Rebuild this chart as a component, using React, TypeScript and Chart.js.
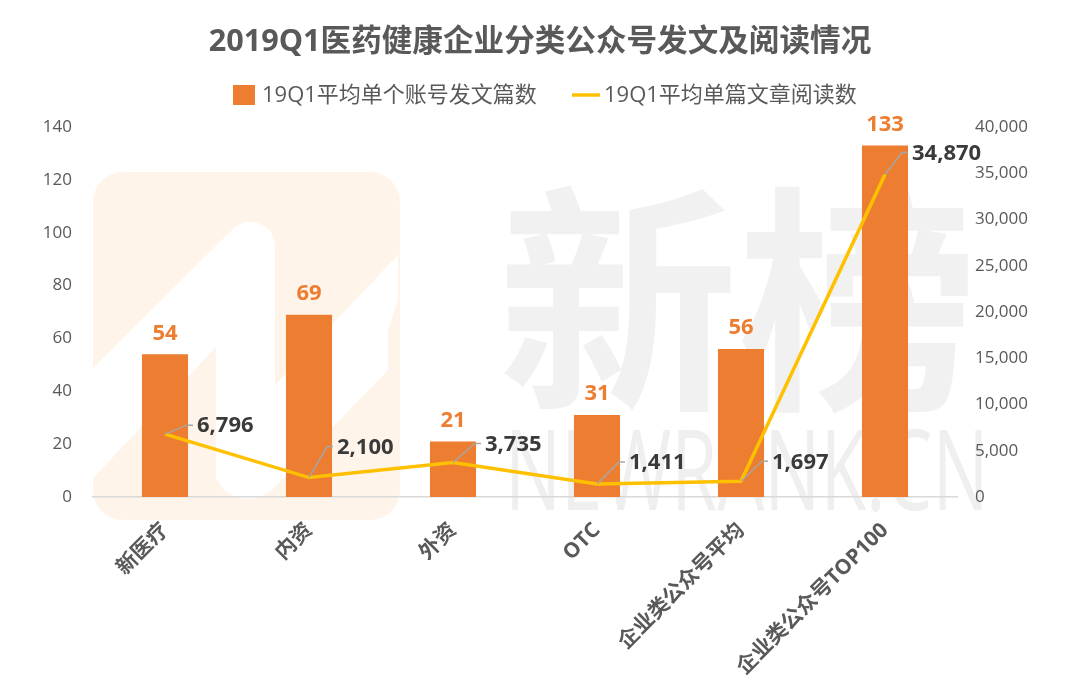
import { useEffect, useRef } from 'react';
import { Chart, registerables } from 'chart.js';

Chart.register(...registerables);

const titleText = '2019Q1医药健康企业分类公众号发文及阅读情况';
const categories = ['新医疗', '内资', '外资', 'OTC', '企业类公众号平均', '企业类公众号TOP100'];
const barSeriesName = '19Q1平均单个账号发文篇数';
const lineSeriesName = '19Q1平均单篇文章阅读数';
const postCounts = [54, 69, 21, 31, 56, 133];
const readCounts = [6796, 2100, 3735, 1411, 1697, 34870];
const leftMax = 140;
const leftStep = 20;
const rightMax = 40000;
const rightStep = 5000;
// label placement for the line labels (dx, dy from the point)
const readLabelOffsets = [
  [25, -9],
  [21, -31],
  [25, -19],
  [25, -22],
  [24, -20],
  [20, -22],
];

const ORANGE = '#ED7D31';
const YELLOW = '#FFC000';
const GRAY = '#595959';
const FONT = '"Open Sans", "Noto Sans CJK SC", sans-serif';

const fmt = (v: number) => v.toLocaleString('en-US');

const decorPlugin = {
  id: 'decor',
  beforeDraw(chart: any) {
    const ctx = chart.ctx as CanvasRenderingContext2D;
    ctx.save();
    // faint logo
    ctx.beginPath();
    (ctx as any).roundRect(93, 172, 307, 348, 30);
    ctx.fillStyle = '#FEF4EA';
    ctx.fill();
    ctx.save();
    ctx.clip();
    ctx.fillStyle = '#FFFFFF';
    ctx.beginPath();
    ctx.moveTo(80, 381);
    ctx.lineTo(232, 230);
    ctx.quadraticCurveTo(252, 212, 271, 232);
    ctx.lineTo(275, 243);
    ctx.lineTo(275, 385);
    ctx.lineTo(398, 255);
    ctx.lineTo(398, 300);
    ctx.lineTo(388, 330);
    ctx.lineTo(388, 370);
    ctx.lineTo(272, 490);
    ctx.quadraticCurveTo(248, 508, 224, 490);
    ctx.lineTo(216, 478);
    ctx.lineTo(216, 347);
    ctx.lineTo(80, 492);
    ctx.closePath();
    ctx.fill();
    ctx.restore();
    // watermark text
    ctx.fillStyle = '#F1F1F1';
    ctx.font = '700 240px "Noto Sans CJK SC", sans-serif';
    ctx.textBaseline = 'middle';
    ctx.textAlign = 'left';
    ctx.fillText('新榜', 498, 300);
    ctx.save();
    ctx.translate(505, 478);
    ctx.scale(0.665, 1);
    ctx.font = '400 112px "Open Sans", sans-serif';
    ctx.fillStyle = '#EFEFEF';
    ctx.fillText('NEWRANK.CN', 0, 0);
    ctx.restore();

    // title
    ctx.fillStyle = GRAY;
    ctx.textAlign = 'center';
    ctx.font = `bold 30.6px ${FONT}`;
    ctx.fillText(titleText, 540, 42);

    // legend
    ctx.textAlign = 'left';
    ctx.font = `22px ${FONT}`;
    ctx.fillStyle = ORANGE;
    ctx.fillRect(233, 85, 22, 20);
    ctx.fillStyle = GRAY;
    ctx.fillText(barSeriesName, 262, 96);
    ctx.strokeStyle = YELLOW;
    ctx.lineWidth = 3.5;
    ctx.beginPath();
    ctx.moveTo(572, 95);
    ctx.lineTo(600, 95);
    ctx.stroke();
    ctx.fillText(lineSeriesName, 604, 96);
    ctx.restore();
  },
  afterDatasetsDraw(chart: any) {
    const ctx = chart.ctx as CanvasRenderingContext2D;
    const barMeta = chart.getDatasetMeta(0);
    const lineMeta = chart.getDatasetMeta(1);
    ctx.save();
    ctx.textBaseline = 'middle';
    // bar labels
    ctx.font = `bold 22px ${FONT}`;
    ctx.fillStyle = ORANGE;
    ctx.textAlign = 'center';
    barMeta.data.forEach((el: any, i: number) => {
      ctx.fillText(String(postCounts[i]), el.x, el.y - 21);
    });
    // line labels with leader lines
    ctx.font = `bold 22px ${FONT}`;
    ctx.textAlign = 'left';
    lineMeta.data.forEach((el: any, i: number) => {
      const [dx, dy] = readLabelOffsets[i];
      const ex = el.x + dx;
      const ey = el.y + dy;
      ctx.strokeStyle = '#A6A6A6';
      ctx.lineWidth = 1.5;
      ctx.beginPath();
      ctx.moveTo(el.x, el.y);
      ctx.lineTo(ex - 3, ey);
      ctx.lineTo(ex + 3, ey);
      ctx.stroke();
      ctx.fillStyle = '#3A3A3A';
      ctx.fillText(fmt(readCounts[i]), ex + 7, ey + 1);
    });
    ctx.restore();
  },
};

export default function App() {
  const ref = useRef<HTMLCanvasElement | null>(null);
  useEffect(() => {
    document.body.style.margin = '0';
    if (!ref.current) return;
    const chart = new Chart(ref.current, {
      type: 'bar',
      data: {
        labels: categories,
        datasets: [
          {
            type: 'bar',
            label: barSeriesName,
            data: postCounts,
            backgroundColor: ORANGE,
            borderWidth: 0,
            yAxisID: 'y',
            barPercentage: 0.32,
            categoryPercentage: 1,
            order: 1,
          } as any,
          {
            type: 'line',
            label: lineSeriesName,
            data: readCounts,
            borderColor: YELLOW,
            backgroundColor: YELLOW,
            borderWidth: 3.5,
            pointRadius: 0,
            tension: 0,
            yAxisID: 'y1',
            order: 0,
          } as any,
        ],
      },
      options: {
        responsive: false,
        animation: false,
        devicePixelRatio: 1,
        layout: { padding: { top: 127, left: 0, right: 0, bottom: 8 } },
        plugins: {
          tooltip: { enabled: false },
          title: { display: false },
          legend: { display: false },
        },
        scales: {
          x: {
            grid: { display: false },
            border: { display: true, color: '#D9D9D9', width: 1.5 },
            ticks: {
              color: GRAY,
              font: { size: 21, weight: 'bold', family: FONT },
              minRotation: 45,
              maxRotation: 45,
              padding: 13,
              autoSkip: false,
            },
            afterFit: (s: any) => {
              s.height = 186;
            },
          },
          y: {
            position: 'left',
            min: 0,
            max: leftMax,
            grid: { display: false, drawTicks: false },
            border: { display: false },
            ticks: {
              stepSize: leftStep,
              color: GRAY,
              font: { size: 17, family: FONT },
              padding: 21,
            },
            afterFit: (s: any) => {
              s.width = 93;
            },
          },
          y1: {
            position: 'right',
            min: 0,
            max: rightMax,
            grid: { display: false, drawTicks: false },
            border: { display: false },
            ticks: {
              stepSize: rightStep,
              color: GRAY,
              font: { size: 17, family: FONT },
              padding: 18,
              callback: (v: any) => fmt(Number(v)),
            },
            afterFit: (s: any) => {
              s.width = 123;
            },
          },
        },
      },
      plugins: [decorPlugin],
    });
    return () => chart.destroy();
  }, []);
  return (
    <div style={{ position: 'absolute', left: 0, top: 0, width: 1080, height: 691, background: '#fff' }}>
      <canvas ref={ref} width={1080} height={691} style={{ width: 1080, height: 691 }} />
    </div>
  );
}
